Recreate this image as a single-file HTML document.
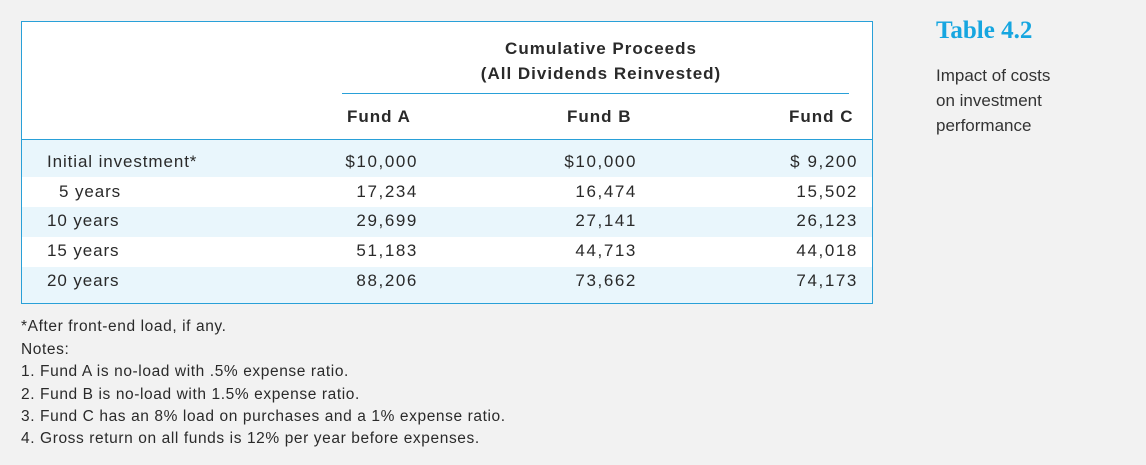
<!DOCTYPE html>
<html><head><meta charset="utf-8"><style>
body{margin:0;width:1146px;height:465px;background:#f2f2f2;font-family:"Liberation Sans",sans-serif;color:#2a2a2a;position:relative;overflow:hidden}
.abs{position:absolute;white-space:nowrap}
#box{position:absolute;left:21px;top:21px;width:850px;height:281px;border:1px solid #29a0d8;background:#fff}
.band{position:absolute;left:0;width:850px;background:#e9f6fc}
.t{font-size:17px;letter-spacing:0.9px}
.num{position:absolute;text-align:right;font-size:17px;line-height:20px;letter-spacing:1.6px}
.hd{font-weight:bold;font-size:17px;letter-spacing:1px}
.note{font-size:15.5px;left:21px;line-height:18px;letter-spacing:0.6px}
</style></head><body>
<div id="box">
  <div class="band" style="top:118px;height:37px"></div>
  <div class="band" style="top:185px;height:30px"></div>
  <div class="band" style="top:245px;height:36px"></div>
  <div style="position:absolute;left:0;top:117px;width:850px;height:1px;background:#29a0d8"></div>
  <div style="position:absolute;left:320px;top:71px;width:507px;height:1px;background:#29a0d8"></div>
</div>
<div class="abs hd" style="top:36px;text-align:center;line-height:25px;white-space:normal;left:446px;width:310px">Cumulative Proceeds<br>(All Dividends Reinvested)</div>
<div class="abs hd" style="left:347px;top:107px">Fund A</div>
<div class="abs hd" style="left:567px;top:107px">Fund B</div>
<div class="abs hd" style="left:789px;top:107px">Fund C</div>
<div id="rows"></div>
<div class="abs" style="left:936px;top:17px;font-family:'Liberation Serif',serif;font-weight:bold;font-size:25px;color:#16a6e0">Table 4.2</div>
<div class="abs" style="left:936px;top:63px;font-size:17px;line-height:25px;color:#333">Impact of costs<br>on investment<br>performance</div>
<div class="abs note" style="top:318px">*After front-end load, if any.</div>
<div class="abs note" style="top:341px">Notes:</div>
<div class="abs note" style="top:363px">1. Fund A is no-load with .5% expense ratio.</div>
<div class="abs note" style="top:386px">2. Fund B is no-load with 1.5% expense ratio.</div>
<div class="abs note" style="top:408px">3. Fund C has an 8% load on purchases and a 1% expense ratio.</div>
<div class="abs note" style="top:430px">4. Gross return on all funds is 12% per year before expenses.</div>
<script>
const labels=["Initial investment*","5 years","10 years","15 years","20 years"];
const fundA=["$10,000","17,234","29,699","51,183","88,206"];
const fundB=["$10,000","16,474","27,141","44,713","73,662"];
const fundC=["$ 9,200","15,502","26,123","44,018","74,173"];
const rows=document.getElementById('rows');
const ys=[152,182,211,241,271];
labels.forEach((l,i)=>{
  const d=document.createElement('div');
  d.className='abs t';d.style.left=(i==1?59:47)+'px';d.style.top=ys[i]+'px';d.textContent=l;
  
  
  rows.appendChild(d);
  [[fundA,318],[fundB,537],[fundC,758]].forEach(([arr,x])=>{
    const n=document.createElement('div');
    n.className='num';n.style.left=x+'px';n.style.width='100px';n.style.top=ys[i]+'px';n.textContent=arr[i];
    
    
    rows.appendChild(n);
  });
});
</script>
</body></html>
